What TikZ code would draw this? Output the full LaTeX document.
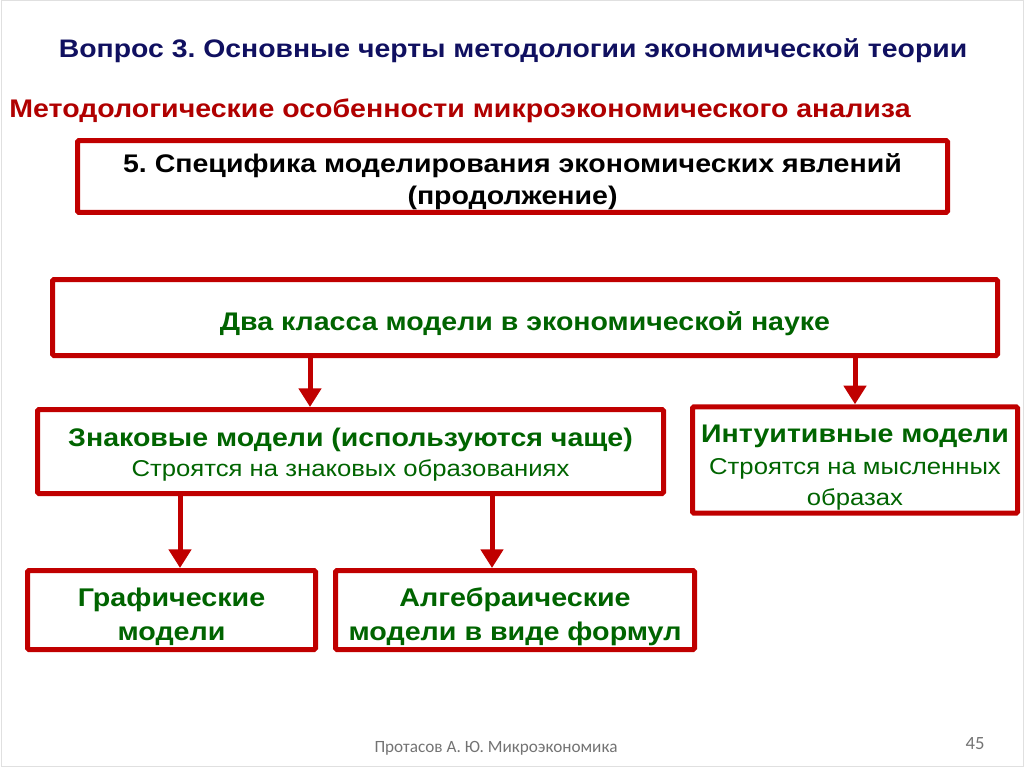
\documentclass[tikz,border=0pt]{standalone}
\usepackage{fontspec}
\setmainfont[FakeStretch=1.12]{Liberation Sans}
\newfontfamily\footfont{Carlito}
\usetikzlibrary{arrows.meta,positioning}
\definecolor{boxred}{RGB}{192,0,0}
\definecolor{txtgreen}{RGB}{0,100,0}
\definecolor{navy}{RGB}{16,16,96}
\definecolor{subred}{RGB}{176,0,0}
\newcommand{\dropby}[1]{\rule{0pt}{\dimexpr14.5pt+#1\relax}}
\frenchspacing
\begin{document}
\begin{tikzpicture}[x=0.75pt,y=-0.75pt,
    redbox/.style={draw=boxred, line width=3.75pt, rectangle, rounded corners=1pt, align=center, inner sep=2pt},
    arr/.style={draw=boxred, line width=3.75pt, -{Triangle[width=16.5pt,length=14pt]}},
    greenbold/.style={text=txtgreen, font=\fontsize{19.1}{24}\selectfont\bfseries}]
        \useasboundingbox (0,0) rectangle (1024,767);
        \draw[black!12, line width=0.75pt] (1,1) rectangle (1023,766);
        \node (title) at (513,51) {\color{navy}\fontsize{19}{24}\selectfont\bfseries Вопрос 3. Основные черты методологии экономической теории};
        \node (subtitle) at (460,111) {\color{subred}\fontsize{19.1}{24}\selectfont\bfseries Методологические особенности микроэкономического анализа};
        \node[redbox, minimum width=652.5pt, minimum height=51pt, font=\fontsize{19.1}{24}\selectfont\bfseries] (spec) at (512.5,176.5)
            {\dropby{7.5pt}5. Специфика моделирования экономических явлений\\(продолжение)};
        \node[redbox, minimum width=708.75pt, minimum height=57pt, greenbold] (classes) at (525,317.5)
            {\dropby{9pt}Два класса модели в экономической науке};
        \node[redbox, minimum width=469.5pt, minimum height=63pt, text=txtgreen, font=\fontsize{17.2}{22.5}\selectfont] (sign) at (350.5,451.5)
            {{\fontsize{19.1}{22.5}\selectfont\bfseries\dropby{4.5pt}Знаковые модели (используются чаще)}\\Строятся на знаковых образованиях};
        \node[redbox, minimum width=243.75pt, minimum height=75.75pt, text=txtgreen, font=\fontsize{17.2}{23.6}\selectfont] (intuit) at (855,460)
            {{\fontsize{19.1}{23.6}\selectfont\bfseries\dropby{10.5pt}Интуитивные модели}\\Строятся на мысленных\\образах};
        \node[redbox, minimum width=216pt, minimum height=59.25pt, text=txtgreen, font=\fontsize{19.2}{25.5}\selectfont\bfseries] (graph) at (171.5,610)
            {\dropby{9pt}Графические\\модели};
        \node[redbox, minimum width=269.25pt, minimum height=59.25pt, text=txtgreen, font=\fontsize{19.2}{25.5}\selectfont\bfseries] (alg) at (515,610)
            {\dropby{9pt}Алгебраические\\модели в виде формул};
        \draw[arr] (classes.south -| 310,0) -- (sign.north -| 310,0);
        \draw[arr] (classes.south -| intuit.north) -- (intuit.north);
        \draw[arr] (sign.south -| 180,0) -- (graph.north -| 180,0);
        \draw[arr] (sign.south -| 492,0) -- (alg.north -| 492,0);
        \node[text=black!55, font=\footfont\fontsize{12.9}{15}\selectfont] (author) at (496,748) {Протасов А. Ю. Микроэкономика};
        \node[text=black!55, font=\footfont\fontsize{14}{16}\selectfont] (page) at (975,744) {45};
\end{tikzpicture}
\end{document}
